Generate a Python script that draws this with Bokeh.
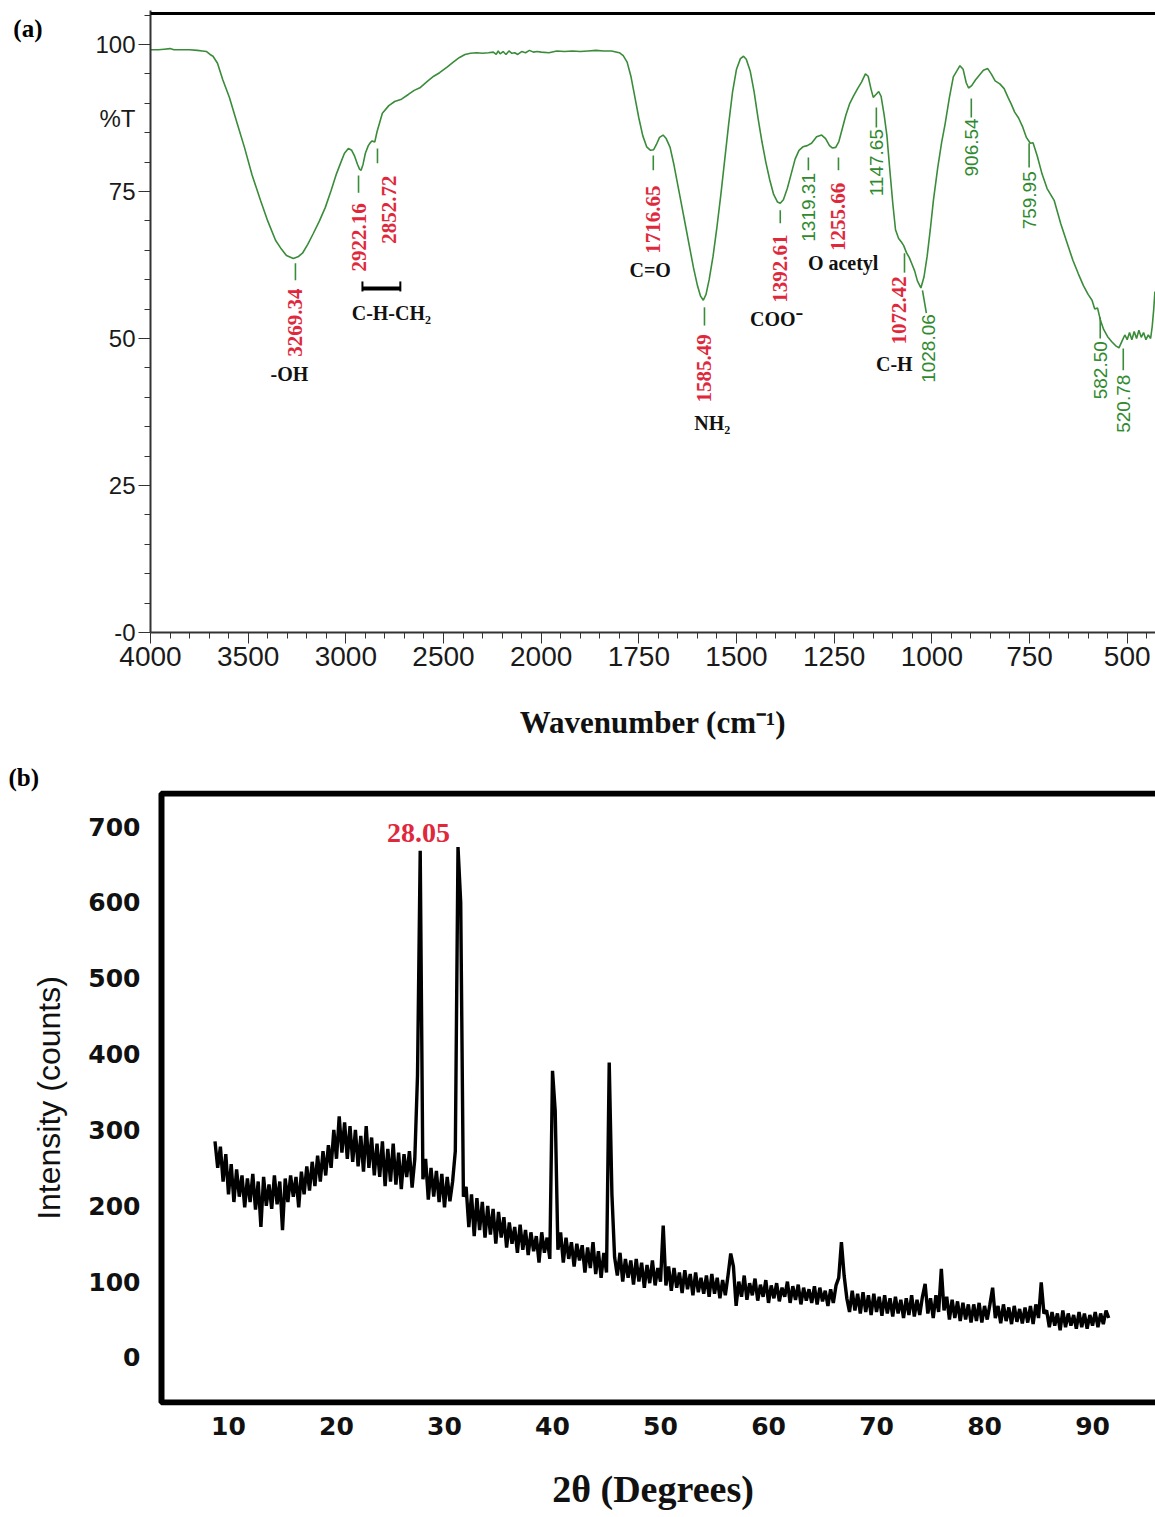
import numpy as np
from bokeh.plotting import figure
from bokeh.models import (ColumnDataSource, FixedTicker, Span, Range1d, LinearAxis,
                          BoxAnnotation, CustomJSTransform)
from bokeh.transform import transform
from bokeh.core.properties import value
from bokeh.layouts import column
from bokeh.embed import file_html
from bokeh.resources import INLINE

# ---------------- (a) FTIR data: wavenumber (cm-1) and %T ----------------
ftir_wavenumber = [
    4000, 3960, 3930, 3900, 3880, 3850, 3800, 3760, 3735, 3713, 3695, 3680, 3657, 3630,
    3596, 3560, 3519, 3480, 3437, 3400, 3360, 3330, 3304, 3269, 3245, 3222, 3195, 3166,
    3135, 3105, 3075, 3048, 3025, 3007, 2987, 2970, 2955, 2940, 2930, 2922, 2912, 2900,
    2885, 2875, 2865, 2852, 2840, 2813, 2780, 2750, 2715, 2680, 2650, 2618, 2580, 2550,
    2520, 2480, 2450, 2418, 2390, 2362, 2330, 2300, 2270, 2245, 2230, 2220, 2210, 2195,
    2180, 2165, 2150, 2135, 2120, 2100, 2080, 2060, 2040, 2020, 2000, 1980, 1960, 1940,
    1920, 1900, 1880, 1860, 1840, 1820, 1800, 1790, 1780, 1770, 1760, 1750, 1740, 1730,
    1720, 1712, 1705, 1697, 1688, 1680, 1670, 1660, 1650, 1640, 1630, 1620, 1610, 1600,
    1592, 1585, 1578, 1570, 1560, 1550, 1540, 1530, 1520, 1510, 1500, 1490, 1482, 1475,
    1465, 1455, 1445, 1435, 1425, 1415, 1405, 1395, 1388, 1380, 1370, 1360, 1350, 1340,
    1330, 1319, 1308, 1295, 1282, 1272, 1262, 1255, 1246, 1238, 1230, 1220, 1210, 1200,
    1190, 1180, 1170, 1163, 1156, 1150, 1143, 1136, 1130, 1122, 1115, 1108, 1100, 1093,
    1085, 1078, 1072, 1065, 1058, 1050, 1044, 1037, 1028, 1020, 1012, 1004, 996, 985,
    975, 966, 955, 945, 936, 928, 920, 912, 906, 898, 888, 878, 868, 857, 848, 838, 826,
    815, 805, 797, 788, 778, 767, 758, 748, 741, 730, 718, 705, 687, 670, 655, 639, 625,
    612, 600, 590, 583, 576, 568, 560, 550, 540, 530, 521, 513, 506, 500, 494, 488, 482,
    476, 470, 464, 458, 452, 446, 440, 436, 432, 429]
ftir_transmittance = [
    99.1, 99.1, 99.2, 99.3, 99.1, 99.1, 99.1, 99.0, 98.9, 98.8, 98.3, 98.0, 96.8, 94.0,
    91.0, 87.0, 82.5, 77.8, 73.5, 70.0, 66.7, 65.2, 64.1, 63.6, 63.9, 64.5, 66.0, 67.9,
    70.0, 72.3, 75.2, 78.0, 80.0, 81.5, 82.3, 82.0, 81.0, 79.6, 78.8, 78.6, 79.6, 81.5,
    82.8, 83.3, 83.6, 83.4, 85.2, 88.3, 89.6, 90.3, 90.7, 91.5, 92.2, 92.7, 93.8, 94.6,
    95.2, 96.2, 97.0, 97.8, 98.3, 98.5, 98.6, 98.5, 98.6, 98.7, 98.3, 98.9, 98.4, 98.8,
    98.3, 98.9, 98.5, 98.6, 98.3, 98.8, 98.6, 99.0, 98.7, 98.8, 98.7, 98.6, 98.9, 98.8,
    98.9, 98.8, 98.9, 99.0, 98.9, 98.9, 98.6, 98.1, 97.0, 94.5, 91.0, 87.5, 84.5, 82.6,
    82.0, 82.1, 83.0, 84.2, 84.6, 84.0, 82.5, 79.5, 76.0, 72.5, 69.0, 65.5, 62.0, 59.0,
    57.2, 56.5, 57.5, 60.0, 64.0, 69.0, 74.5, 80.5, 86.5, 92.0, 95.8, 97.6, 98.0, 97.5,
    95.5, 92.0, 87.5, 83.5, 80.0, 77.0, 74.5, 73.2, 73.0, 73.6, 75.5, 78.0, 80.5, 82.0,
    82.6, 82.8, 83.2, 84.3, 84.6, 84.0, 82.8, 82.4, 82.5, 83.5, 85.5, 88.0, 90.0, 91.3,
    92.5, 93.6, 95.0, 94.6, 92.5, 91.0, 91.5, 92.0, 91.2, 88.0, 84.5, 79.0, 73.0, 68.5,
    67.0, 66.4, 65.8, 64.6, 63.8, 62.5, 61.5, 59.8, 58.6, 60.5, 64.0, 68.5, 73.5, 79.0,
    83.3, 86.5, 91.0, 94.5, 95.5, 96.4, 95.8, 93.5, 92.6, 93.0, 94.0, 94.8, 95.6, 95.9,
    95.0, 93.8, 93.3, 92.5, 91.0, 89.9, 88.5, 87.5, 85.9, 84.2, 83.2, 83.3, 81.0, 78.0,
    75.5, 73.5, 69.5, 66.5, 63.3, 61.0, 59.0, 57.5, 56.5, 55.0, 55.2, 53.0, 51.5, 50.3,
    49.5, 48.8, 48.4, 49.6, 50.6, 49.8, 51.0, 49.8, 51.2, 50.0, 51.4, 50.2, 51.0, 49.8,
    50.6, 50.0, 52.0, 55.0, 58.0]

ftir_tick_labels = ["4000", "3500", "3000", "2500", "2000", "1750", "1500",
                    "1250", "1000", "750", "500"]
ftir_tick_values = [4000, 3500, 3000, 2500, 2000, 1750, 1500, 1250, 1000, 750, 500]
ftir_y_ticks = [0, 25, 50, 75, 100]
ftir_y_tick_labels = ["-0", "25", "50", "75", "100"]
ftir_y_unit_label = "%T"
ftir_y_unit_at = 87.4
panel_a_tag, panel_a_tag_at = "(a)", 102.7

# peak annotations (values as printed on the chart)
red_peak_labels = ["3269.34", "2922.16", "2852.72", "1716.65", "1585.49",
                   "1392.61", "1255.66", "1072.42"]
green_peak_labels = ["1319.31", "1147.65", "1028.06", "906.54", "759.95",
                     "582.50", "520.78"]
group_labels = ["-OH", "C-H-CH\u2082", "C=O", "NH\u2082", "COO\u207b",
                "O acetyl", "C-H"]

# annotation placement (wavenumber, %T)
red_label_wn = [3258, 2935, 2777, 1713, 1582, 1388, 1239, 1083]
red_label_t = [52.7, 67.2, 71.9, 70.2, 44.9, 61.9, 70.7, 54.8]
red_mark_wn = [3258, 2935, 2838, 1713, 1582, 1388, 1239, 1070]
red_mark_top = [62.8, 77.7, 82.3, 81.1, 55.3, 71.8, 80.8, 64.5]
red_mark_bottom = [59.9, 74.8, 79.8, 78.6, 52.2, 69.6, 78.6, 61.2]

green_label_wn = [1316, 1142, 1009, 899, 751, 569, 510]
green_label_t = [72.3, 79.9, 48.3, 82.5, 73.5, 44.6, 38.9]
green_mark_wn0 = [1316, 1142, 1024, 899, 751, 569, 510]
green_mark_wn1 = [1316, 1142, 1014, 899, 751, 569, 510]
green_mark_top = [80.8, 89.3, 58.2, 90.8, 83.2, 53.6, 48.3]
green_mark_bottom = [78.6, 85.9, 54.3, 87.6, 79.1, 50.0, 44.6]

group_wn = [3289, 2767, 1721, 1562, 1398, 1227, 1096]
group_t = [44.0, 54.4, 61.6, 35.7, 53.4, 62.8, 45.7]

bracket_wn = [2915, 2721]
bracket_t = 58.5

# ---------------- (b) XRD data ----------------
xrd_start, xrd_step = 8.75, 0.25
xrd_intensity = [
    285,
    250, 278, 232, 268, 215, 255, 205, 248, 212, 240, 198, 236, 205, 242, 195, 232, 172, 238, 200, 228,
    196, 240, 202, 232, 168, 236, 205, 240, 212, 238, 198, 245, 215, 252, 220, 258, 226, 266, 232, 272,
    240, 280, 250, 300, 262, 318, 270, 310, 262, 305, 258, 300, 252, 292, 245, 305, 250, 290, 240, 282,
    238, 285, 226, 275, 232, 282, 228, 270, 222, 268, 238, 272, 224, 262, 372, 668, 235, 262, 208, 250,
    212, 246, 205, 242, 198, 238, 206, 232, 272, 673, 600, 212, 225, 172, 215, 160, 210, 168, 205, 158,
    200, 162, 196, 150, 192, 158, 185, 145, 178, 150, 172, 138, 175, 142, 168, 135, 165, 140, 160, 125,
    165, 138, 158, 130, 378, 325, 142, 165, 125, 158, 130, 152, 120, 150, 128, 148, 112, 145, 118, 152,
    110, 140, 105, 138, 112, 389, 215, 132, 108, 138, 100, 130, 105, 128, 96, 130, 100, 125, 92, 122,
    98, 128, 95, 118, 100, 174, 95, 120, 88, 118, 92, 112, 85, 115, 90, 110, 82, 112, 86, 105,
    84, 108, 80, 110, 84, 105, 78, 102, 82, 108, 137, 120, 68, 100, 80, 108, 76, 98, 82, 104,
    75, 96, 80, 102, 72, 95, 78, 98, 74, 92, 80, 100, 72, 94, 76, 96, 70, 92, 75, 90,
    72, 94, 70, 92, 74, 88, 68, 90, 72, 95, 105, 152, 108, 78, 60, 88, 62, 84, 58, 86,
    60, 82, 56, 84, 60, 80, 55, 82, 58, 78, 54, 80, 58, 76, 52, 78, 56, 82, 54, 76,
    56, 80, 97, 58, 78, 52, 82, 60, 117, 62, 80, 50, 76, 52, 74, 48, 72, 50, 70, 46,
    70, 48, 72, 46, 68, 50, 70, 92, 52, 68, 45, 70, 48, 66, 44, 68, 47, 64, 45, 66,
    46, 68, 44, 70, 52, 99, 58, 62, 40, 60, 42, 58, 36, 62, 40, 58, 42, 56, 38, 60,
    40, 58, 38, 56, 42, 60, 40, 58, 44, 62, 52]
xrd_two_theta = [round(xrd_start + i * xrd_step, 2) for i in range(len(xrd_intensity))]
xrd_x_ticks = [10, 20, 30, 40, 50, 60, 70, 80, 90]
xrd_y_ticks = [0, 100, 200, 300, 400, 500, 600, 700]
xrd_peak_label, xrd_peak_label_at = "28.05", (27.6, 692)

# ---------------- styling ----------------
GREEN = "#3a8c3a"
GREEN_TEXT = "#2f8a2f"
RED = "#e0283c"
SERIF = "Liberation Serif"
SANS = "Liberation Sans"


def wn_to_axis(w):
    """FTIR axis: 500 cm-1 per unit above 2000, 250 cm-1 per unit below."""
    return (4000 - w) / 500 if w >= 2000 else 4 + (2000 - w) / 250


wn_tf = CustomJSTransform(
    func="return x >= 2000 ? (4000 - x) / 500 : 4 + (2000 - x) / 250;",
    v_func="""
        const out = new Float64Array(xs.length);
        for (let i = 0; i < xs.length; i++) {
            const w = xs[i];
            out[i] = w >= 2000 ? (4000 - w) / 500 : 4 + (2000 - w) / 250;
        }
        return out;
    """)

# ================= Figure (a) =================
p1 = figure(width=1155, height=760, x_range=Range1d(0, 10.29),
            y_range=Range1d(0, 105.78), output_backend="svg",
            toolbar_location=None, min_border_left=150, min_border_right=0,
            min_border_top=10, min_border_bottom=128)
p1.xgrid.visible = False
p1.ygrid.visible = False
p1.outline_line_color = None

x_major = [wn_to_axis(v) for v in ftir_tick_values]
x_minor = [round(i * 0.2, 2) for i in range(0, 52) if i % 5 != 0]
p1.xaxis.ticker = FixedTicker(ticks=x_major, minor_ticks=x_minor)
p1.xaxis.major_label_overrides = {int(round(u)): lbl for u, lbl in zip(x_major, ftir_tick_labels)}
p1.xaxis.axis_line_width = 2
p1.xaxis.axis_line_color = "#333333"
p1.xaxis.major_tick_line_color = "#333333"
p1.xaxis.minor_tick_line_color = "#333333"
p1.xaxis.major_tick_in = 0
p1.xaxis.major_tick_out = 11
p1.xaxis.minor_tick_in = 0
p1.xaxis.minor_tick_out = 6
p1.xaxis.major_label_standoff = 3
p1.xaxis.major_label_text_font = SANS
p1.xaxis.major_label_text_font_size = "28px"
p1.xaxis.major_label_text_color = "#1a1a1a"
p1.xaxis.axis_label = "Wavenumber (cm\u207b\u00b9)"
p1.xaxis.axis_label_text_font = SERIF
p1.xaxis.axis_label_text_font_style = "bold"
p1.xaxis.axis_label_text_font_size = "31px"
p1.xaxis.axis_label_text_color = "#111111"
p1.xaxis.axis_label_standoff = 36

# left axis 1: tick marks only
p1.yaxis.ticker = FixedTicker(ticks=ftir_y_ticks,
                              minor_ticks=[v for v in range(0, 106, 5) if v % 25 != 0])
p1.yaxis.major_label_overrides = {v: "" for v in ftir_y_ticks}
p1.yaxis.major_label_standoff = 0
p1.yaxis.axis_line_width = 2
p1.yaxis.axis_line_color = "#333333"
p1.yaxis.major_tick_line_color = "#333333"
p1.yaxis.minor_tick_line_color = "#333333"
p1.yaxis.major_tick_in = 0
p1.yaxis.major_tick_out = 12
p1.yaxis.minor_tick_in = 0
p1.yaxis.minor_tick_out = 6

# left axis 2: tick labels (including the %T unit label)
y_lab_axis = LinearAxis(
    ticker=FixedTicker(ticks=ftir_y_ticks + [ftir_y_unit_at]),
    major_label_overrides={**dict(zip(ftir_y_ticks, ftir_y_tick_labels)),
                           ftir_y_unit_at: ftir_y_unit_label},
    axis_line_color=None, major_tick_line_color=None, minor_tick_line_color=None,
    major_tick_out=0, major_tick_in=0, minor_tick_out=0, minor_tick_in=0,
    major_label_standoff=3, major_label_text_font=SANS,
    major_label_text_font_size="24px", major_label_text_color="#1a1a1a")
p1.add_layout(y_lab_axis, "left")

# left axis 3: panel tag "(a)"
tag_axis = LinearAxis(
    ticker=FixedTicker(ticks=[panel_a_tag_at]),
    major_label_overrides={panel_a_tag_at: panel_a_tag},
    axis_line_color=None, major_tick_line_color=None, minor_tick_line_color=None,
    major_tick_out=0, major_tick_in=0, minor_tick_out=0, minor_tick_in=0,
    major_label_standoff=50, major_label_text_font=SERIF,
    major_label_text_font_style="bold", major_label_text_font_size="25px",
    major_label_text_color="black")
p1.add_layout(tag_axis, "left")

p1.add_layout(Span(location=105.27, dimension="width", line_color="black", line_width=3))

ftir_src = ColumnDataSource(dict(w=ftir_wavenumber, t=ftir_transmittance))
p1.line(x=transform("w", wn_tf), y="t", source=ftir_src, line_color=GREEN, line_width=1.6)

# red peak labels with their marks
red_src = ColumnDataSource(dict(w=red_label_wn, t=red_label_t, label=red_peak_labels))
p1.text(x=transform("w", wn_tf), y="t", text="label", source=red_src, angle=np.pi / 2,
        text_align="center", text_baseline="middle", text_font=value(SERIF),
        text_font_style="bold", text_font_size="21px", text_color=RED)
red_mark_src = ColumnDataSource(dict(w=red_mark_wn, t0=red_mark_bottom, t1=red_mark_top))
p1.segment(x0=transform("w", wn_tf), y0="t0", x1=transform("w", wn_tf), y1="t1",
           source=red_mark_src, line_color=GREEN, line_width=1.6)

# green peak labels with their marks
green_src = ColumnDataSource(dict(w=green_label_wn, t=green_label_t, label=green_peak_labels))
p1.text(x=transform("w", wn_tf), y="t", text="label", source=green_src, angle=np.pi / 2,
        text_align="center", text_baseline="middle", text_font=value(SANS),
        text_font_size="19px", text_color=GREEN_TEXT)
green_mark_src = ColumnDataSource(dict(w0=green_mark_wn0, w1=green_mark_wn1,
                                       t0=green_mark_top, t1=green_mark_bottom))
p1.segment(x0=transform("w0", wn_tf), y0="t0", x1=transform("w1", wn_tf), y1="t1",
           source=green_mark_src, line_color=GREEN, line_width=1.6)

# functional group labels
group_src = ColumnDataSource(dict(w=group_wn, t=group_t, label=group_labels))
p1.text(x=transform("w", wn_tf), y="t", text="label", source=group_src,
        text_align="center", text_baseline="middle", text_font=value(SERIF),
        text_font_style="bold", text_font_size="20px", text_color="#111111")

# bracket for C-H-CH2
br_src = ColumnDataSource(dict(w0=[bracket_wn[0], bracket_wn[0], bracket_wn[1]],
                               w1=[bracket_wn[1], bracket_wn[0], bracket_wn[1]],
                               t0=[bracket_t, bracket_t - 0.5, bracket_t - 0.5],
                               t1=[bracket_t, bracket_t + 1.2, bracket_t + 1.2],
                               lw=[4, 2, 2]))
p1.segment(x0=transform("w0", wn_tf), y0="t0", x1=transform("w1", wn_tf), y1="t1",
           source=br_src, line_color="black", line_width="lw")

# ================= Figure (b) =================
p2 = figure(width=1155, height=757, x_range=Range1d(2.778, 95.83),
            y_range=Range1d(-63.3, 747.5), output_backend="svg",
            toolbar_location=None, min_border_left=150, min_border_right=0,
            min_border_top=30, min_border_bottom=112)
p2.xgrid.visible = False
p2.ygrid.visible = False
p2.outline_line_color = None

for ax, ticks in ((p2.xaxis, xrd_x_ticks), (p2.yaxis, xrd_y_ticks)):
    ax.ticker = FixedTicker(ticks=ticks)
    ax.axis_line_color = None
    ax.major_tick_line_color = None
    ax.minor_tick_line_color = None
    ax.major_tick_out = 0
    ax.major_tick_in = 0
    ax.minor_tick_out = 0
    ax.minor_tick_in = 0
    ax.major_label_text_font = "DejaVu Sans"
    ax.major_label_text_font_style = "bold"
    ax.major_label_text_font_size = "25px"
    ax.major_label_text_color = "#111111"

p2.xaxis.major_label_standoff = 11
p2.xaxis.axis_label = "2\u03b8 (Degrees)"
p2.xaxis.axis_label_text_font = SERIF
p2.xaxis.axis_label_text_font_style = "bold"
p2.xaxis.axis_label_text_font_size = "38px"
p2.xaxis.axis_label_text_color = "#111111"
p2.xaxis.axis_label_standoff = 30

p2.yaxis.major_label_standoff = 10
p2.yaxis.axis_label = "Intensity (counts)"
p2.yaxis.axis_label_text_font = SANS
p2.yaxis.axis_label_text_font_style = "normal"
p2.yaxis.axis_label_text_font_size = "32px"
p2.yaxis.axis_label_text_color = "#111111"
p2.yaxis.axis_label_standoff = 18

# frame border (open on the right, beyond the visible page)
p2.add_layout(BoxAnnotation(left=3.796, right=120, bottom=-59.3, top=743.5,
                            fill_alpha=0, line_color="black", line_alpha=1.0,
                            line_width=6))

p2.title.text = "(b)"
p2.title.align = "left"
p2.title.offset = -142
p2.title.standoff = 0
p2.title.text_font = SERIF
p2.title.text_font_style = "bold"
p2.title.text_font_size = "25px"
p2.title.text_color = "black"

xrd_src = ColumnDataSource(dict(x=xrd_two_theta, y=xrd_intensity))
p2.line(x="x", y="y", source=xrd_src, line_color="black", line_width=3.4)

p2.text(x=[xrd_peak_label_at[0]], y=[xrd_peak_label_at[1]], text=[xrd_peak_label],
        text_align="center", text_baseline="middle", text_font=value(SERIF),
        text_font_style="bold", text_font_size="28px", text_color=RED)

layout = column(p1, p2)
open("out.html", "w").write(file_html(layout, INLINE))
